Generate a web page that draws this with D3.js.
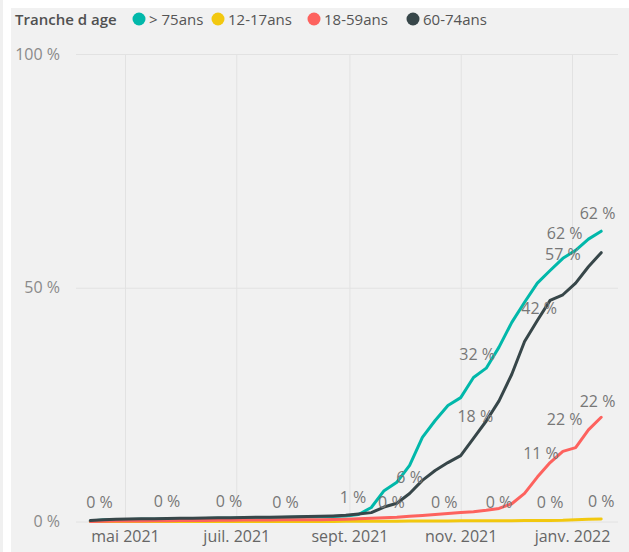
<!DOCTYPE html>
<html><head><meta charset="utf-8">
<script src="https://cdn.jsdelivr.net/npm/d3@7"></script>
<style>
body{margin:0;background:#fff;}
svg{display:block;font-family:"Open Sans","Noto Sans",sans-serif;}
</style></head>
<body>
<svg id="c" width="629" height="552"></svg>
<script>
// ---- data ----
const dates = ["2021-04-12","2021-04-19","2021-04-26","2021-05-03","2021-05-10","2021-05-17","2021-05-24","2021-05-31",
"2021-06-07","2021-06-14","2021-06-21","2021-06-28","2021-07-05","2021-07-12","2021-07-19","2021-07-26",
"2021-08-02","2021-08-09","2021-08-16","2021-08-23","2021-08-30","2021-09-06","2021-09-13","2021-09-20","2021-09-27",
"2021-10-04","2021-10-11","2021-10-18","2021-10-25","2021-11-01","2021-11-08","2021-11-15","2021-11-22","2021-11-29",
"2021-12-06","2021-12-13","2021-12-20","2021-12-27","2022-01-03","2022-01-10","2022-01-17"];
const seriesNames = ["> 75ans","12-17ans","18-59ans","60-74ans"];
const over75 = [0.1,0.3,0.4,0.45,0.5,0.5,0.55,0.6,0.6,0.65,0.7,0.7,0.75,0.8,0.8,0.85,0.9,0.95,1.0,1.05,1.2,
  1.5,3.0,6.6,8.4,12.0,18.0,21.6,24.8,26.5,30.8,32.8,37.3,42.6,46.9,51.0,53.7,56.3,58.0,60.4,62.1];
const age12_17 = [0,0,0,0,0,0,0,0,0,0,0,0,0,0,0,0,0,0,0,0.02,0.04,
  0.05,0.06,0.07,0.08,0.1,0.1,0.12,0.12,0.15,0.15,0.16,0.17,0.18,0.2,0.2,0.22,0.25,0.4,0.5,0.55];
const age18_59 = [0,0.05,0.1,0.1,0.1,0.15,0.15,0.2,0.2,0.2,0.25,0.25,0.3,0.3,0.3,0.35,0.35,0.4,0.4,0.45,0.5,
  0.6,0.7,0.8,0.9,1.1,1.3,1.5,1.7,1.9,2.1,2.4,2.8,3.8,6.0,9.5,12.6,15.0,15.8,19.6,22.3];
const age60_74 = [0.2,0.4,0.5,0.55,0.6,0.6,0.65,0.7,0.7,0.75,0.8,0.8,0.85,0.9,0.9,0.95,1.0,1.05,1.1,1.2,1.35,
  1.6,1.9,3.1,3.9,6.0,8.8,10.9,12.6,14.1,17.8,21.5,25.8,31.5,38.5,43.0,47.3,48.5,51.0,54.5,57.5];
const colors = ["#01B8AA","#F2C80F","#FD625E","#374649"];
const yTicks = [0,50,100];
const xTickDates = ["2021-05-01","2021-07-01","2021-09-01","2021-11-01","2022-01-01"];
const xTickLabels = ["mai 2021","juil. 2021","sept. 2021","nov. 2021","janv. 2022"];
const labelDates = ["2021-04-17","2021-05-24","2021-06-27","2021-07-28","2021-09-03","2021-09-24","2021-10-04","2021-10-23",
 "2021-11-10","2021-11-09","2021-11-22","2021-12-15","2021-12-14","2021-12-20","2021-12-28","2021-12-28","2021-12-27",
 "2022-01-15","2022-01-15","2022-01-17"];
const labelPos = [4.2,4.4,4.4,4.2,5.2,4.2,9.5,4.2,35.8,22.6,4.2,14.7,45.7,4.2,21.9,61.7,57.2,25.8,66,4.4];
const labelTexts = ["0 %","0 %","0 %","0 %","1 %","0 %","6 %","0 %","32 %","18 %","0 %","11 %","42 %","0 %","22 %","62 %","57 %","22 %","62 %","0 %"];

// ---- chart ----
const parse = d3.timeParse("%Y-%m-%d");
const svg = d3.select("#c");
svg.append("rect").attr("x",0).attr("y",0).attr("width",3).attr("height",552).attr("fill","#f0f0f0");
svg.append("rect").attr("x",11).attr("y",8).attr("width",618).attr("height",544).attr("fill","#f1f1f1");

const x = d3.scaleTime().domain([parse("2021-05-01"),parse("2022-01-01")]).range([125,572]);
const y = d3.scaleLinear().domain([0,100]).range([521.5,54]);
const left = 76, right = 618;

// y axis with gridlines
const yAxis = svg.append("g").attr("transform",`translate(${left},0)`)
  .call(d3.axisLeft(y).tickValues(yTicks).tickFormat(d=>d+" %").tickSize(-(right-left)).tickPadding(16));
yAxis.select(".domain").remove();
yAxis.selectAll("line").attr("stroke","#e2e2e2").attr("stroke-width",1);
yAxis.selectAll("text").attr("fill","#8a8a8a").attr("font-size",16).attr("font-family","Open Sans");

// x axis with vertical gridlines
const xAxis = svg.append("g").attr("transform",`translate(0,${y(0)})`)
  .call(d3.axisBottom(x).tickValues(xTickDates.map(parse)).tickFormat((d,i)=>xTickLabels[i])
    .tickSize(-(y(0)-y(100))).tickPadding(9));
xAxis.select(".domain").remove();
xAxis.selectAll("line").attr("stroke","#e2e2e2").attr("stroke-width",1);
xAxis.selectAll("text").attr("fill","#666").attr("font-size",16).attr("font-family","Open Sans");

// lines
const seriesValues = [over75, age12_17, age18_59, age60_74];
const line = d3.line().x((d,i)=>x(parse(dates[i]))).y(d=>y(d)).curve(d3.curveLinear);
seriesValues.forEach((vals,k)=>{
  svg.append("path").datum(vals).attr("d",line).attr("fill","none")
    .attr("stroke",colors[k]).attr("stroke-width",3).attr("stroke-linejoin","round").attr("stroke-linecap","round");
});

// data labels
svg.append("g").selectAll("text").data(labelTexts).join("text")
  .attr("x",(d,i)=>x(parse(labelDates[i]))).attr("y",(d,i)=>y(labelPos[i]))
  .attr("text-anchor","middle").attr("dominant-baseline","central")
  .attr("font-size",16).attr("fill","#777").text(d=>d);

// legend
const lg = svg.append("g");
lg.append("text").attr("x",15).attr("y",19).attr("dominant-baseline","central")
  .attr("font-size",15).attr("font-weight",600).attr("fill","#505050").text("Tranche d age");
const legX = [139,218,314,413];
seriesNames.forEach((n,k)=>{
  lg.append("circle").attr("cx",legX[k]).attr("cy",19).attr("r",6.5).attr("fill",colors[k]);
  lg.append("text").attr("x",legX[k]+10).attr("y",19).attr("dominant-baseline","central")
    .attr("font-size",15).attr("fill","#555").text(n);
});
</script>
</body></html>
